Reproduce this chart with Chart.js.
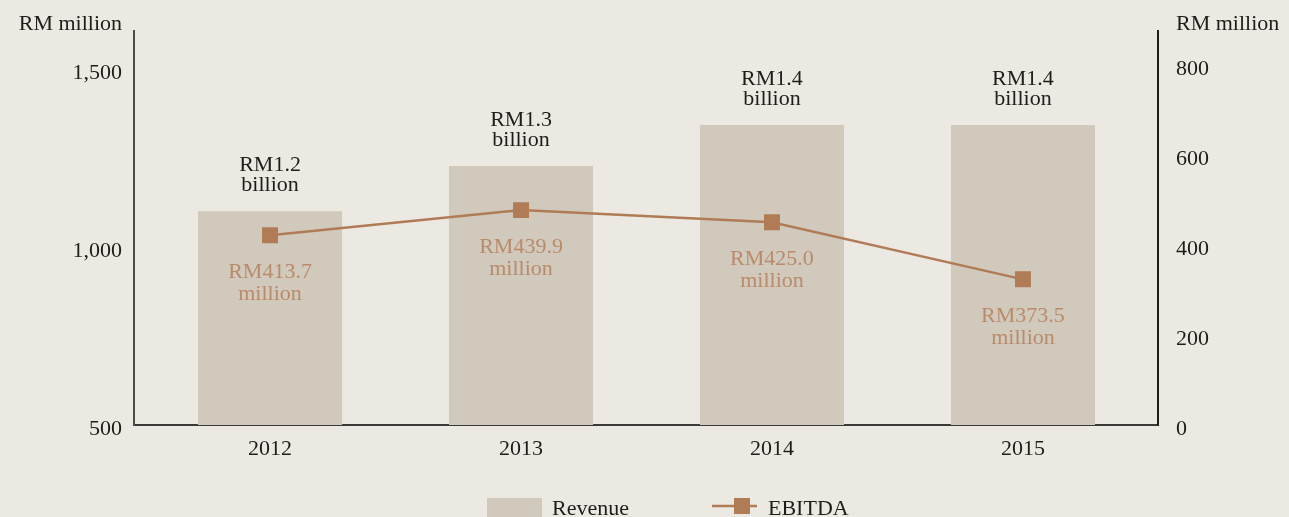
<!DOCTYPE html>
<html>
<head>
<meta charset="utf-8">
<script src="https://cdn.jsdelivr.net/npm/chart.js@4.4.0/dist/chart.umd.min.js"></script>
<style>
html, body { margin: 0; padding: 0; background: #ece9e3; overflow: hidden; }
#wrap { position: relative; width: 1289px; height: 517px; }
</style>
</head>
<body>
<div id="wrap"><canvas id="chart"></canvas></div>
<script>
const years = ['2012', '2013', '2014', '2015'];
const revenue = [1101, 1228, 1343, 1343];
const ebitda = [422, 478, 451, 324];
const revenueText = ['RM1.2', 'RM1.3', 'RM1.4', 'RM1.4'];
const ebitdaText = ['RM413.7', 'RM439.9', 'RM425.0', 'RM373.5'];
const leftTicks = [500, 1000, 1500];
const rightTicks = [0, 200, 400, 600, 800];

const barColor = '#d1c9bc';
const lineColor = '#b07c56';
const valueColor = '#b98b6b';
const textColor = '#1f1c1a';
const FONT = '"Liberation Serif", "Times New Roman", serif';

Chart.defaults.font.family = FONT;
Chart.defaults.font.size = 22;
Chart.defaults.color = textColor;

// value labels, axis titles and legend
const labelPlugin = {
    id: 'labels',
    afterDatasetsDraw(chart) {
        const ctx = chart.ctx;
        const area = chart.chartArea;
        ctx.save();
        ctx.font = '22px ' + FONT;
        ctx.textAlign = 'center';
        ctx.textBaseline = 'middle';

        ctx.fillStyle = textColor;
        chart.getDatasetMeta(1).data.forEach((bar, i) => {
            ctx.fillText(revenueText[i], bar.x, bar.y - 46);
            ctx.fillText('billion', bar.x, bar.y - 26);
        });

        ctx.fillStyle = valueColor;
        chart.getDatasetMeta(0).data.forEach((pt, i) => {
            ctx.fillText(ebitdaText[i], pt.x, pt.y + 37);
            ctx.fillText('million', pt.x, pt.y + 59);
        });

        ctx.fillStyle = textColor;
        ctx.textAlign = 'right';
        ctx.fillText('RM million', area.left - 12, 24);
        ctx.textAlign = 'left';
        ctx.fillText('RM million', area.right + 18, 24);

        // legend
        const ds = chart.data.datasets;
        ctx.fillStyle = ds[1].backgroundColor;
        ctx.fillRect(487, 498, 55, 22);
        ctx.fillStyle = textColor;
        ctx.fillText(ds[1].label, 552, 509);

        ctx.strokeStyle = ds[0].borderColor;
        ctx.lineWidth = 2.5;
        ctx.beginPath();
        ctx.moveTo(712, 506);
        ctx.lineTo(757, 506);
        ctx.stroke();
        ctx.fillStyle = ds[0].pointBackgroundColor;
        ctx.fillRect(734, 498, 16, 16);
        ctx.fillStyle = textColor;
        ctx.fillText(ds[0].label, 768, 509);
        ctx.restore();
    }
};

const ctx = document.getElementById('chart').getContext('2d');
const chart = new Chart(ctx, {
    data: {
        datasets: [
            {
                type: 'line',
                label: 'EBITDA',
                data: ebitda.map((v, i) => ({ x: i, y: v })),
                yAxisID: 'y1',
                borderColor: lineColor,
                borderWidth: 2.5,
                pointStyle: 'rect',
                pointRadius: 11.3,
                pointHoverRadius: 11.3,
                pointBackgroundColor: lineColor,
                pointBorderWidth: 0,
                tension: 0,
                order: 1,
            },
            {
                type: 'bar',
                label: 'Revenue',
                data: revenue.map((v, i) => ({ x: i, y: v })),
                yAxisID: 'y',
                backgroundColor: barColor,
                barPercentage: 0.574,
                categoryPercentage: 1,
                order: 2,
            },
        ],
    },
    plugins: [labelPlugin],
    options: {
        responsive: true,
        maintainAspectRatio: false,
        animation: false,
        layout: { padding: { top: 31, left: 0, right: 0, bottom: 0 } },
        plugins: {
            legend: { display: false },
            tooltip: { enabled: false },
        },
        scales: {
            x: {
                type: 'linear',
                offset: false,
                min: -0.542,
                max: 3.538,
                grid: { display: false, drawTicks: false, offset: false },
                border: { display: true, color: '#3a3a3a', width: 2 },
                afterBuildTicks: (scale) => {
                    scale.ticks = years.map((y, i) => ({ value: i }));
                },
                afterFit: (scale) => { scale.height = 92; },
                ticks: {
                    padding: 11,
                    color: textColor,
                    callback: (v) => years[v],
                },
            },
            y: {
                position: 'left',
                min: 500,
                max: 1607,
                grid: { display: false, drawTicks: false },
                border: { display: true, color: '#4d4d4d', width: 2 },
                afterBuildTicks: (scale) => {
                    scale.ticks = leftTicks.map(v => ({ value: v }));
                },
                afterFit: (scale) => { scale.width = 134; },
                ticks: {
                    padding: 12,
                    labelOffset: 4,
                    color: textColor,
                    callback: (v) => v.toLocaleString('en-US'),
                },
            },
            y1: {
                position: 'right',
                min: 0,
                max: 876,
                grid: { display: false, drawTicks: false },
                border: { display: true, color: '#1f1c1a', width: 2 },
                afterBuildTicks: (scale) => {
                    scale.ticks = rightTicks.map(v => ({ value: v }));
                },
                afterFit: (scale) => { scale.width = 131; },
                ticks: {
                    padding: 18,
                    labelOffset: 4,
                    color: textColor,
                },
            },
        },
    },
});
</script>
</body>
</html>
